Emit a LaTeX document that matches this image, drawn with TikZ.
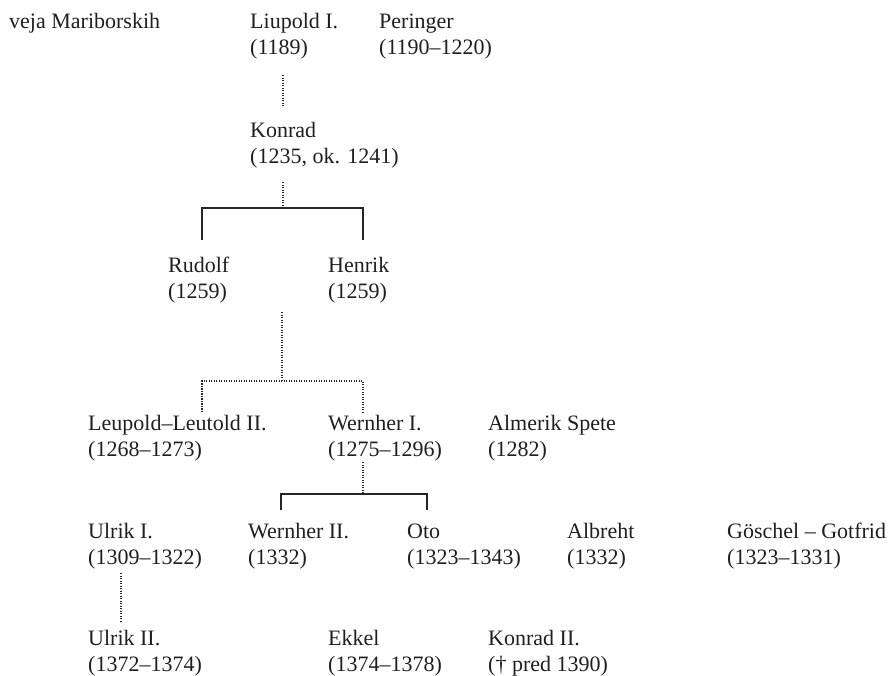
\documentclass[tikz,border=0pt]{standalone}
\usepackage{fontspec}
\setmainfont{Liberation Serif}
\newcommand\pp[2]{\vtop{\hbox{#1}\hbox{#2}}}
\begin{document}
\begin{tikzpicture}[x=1pt,y=-1pt,
  every node/.style={inner sep=0pt, anchor=base west, font=\fontsize{22}{26.8}\selectfont, text=black!88},
  solidln/.style={line width=1.6pt, draw=black!85},
  dotln/.style={line width=1.8pt, draw=black!85, dash pattern=on 1.2pt off 1.3pt}]
\useasboundingbox (0,0) rectangle (891,675);

% people
\node (veja) at (9,28) {veja Mariborskih};
\node (liu) at (250,28) {\pp{Liupold I.}{(1189)}};
\node (per) at (379,28) {\pp{Peringer}{(1190–1220)}};
\node (kon) at (250,137) {\pp{Konrad}{(1235, ok. 1241)}};
\node (rud) at (168,272) {\pp{Rudolf}{(1259)}};
\node (hen) at (328,272) {\pp{Henrik}{(1259)}};
\node (leu) at (88,430) {\pp{Leupold–Leutold II.}{(1268–1273)}};
\node (wer) at (328,430) {\pp{Wernher I.}{(1275–1296)}};
\node (alm) at (488,430) {\pp{Almerik Spete}{(1282)}};
\node (ulr) at (88,538) {\pp{Ulrik I.}{(1309–1322)}};
\node (wer2) at (248,538) {\pp{Wernher II.}{(1332)}};
\node (oto) at (407,538) {\pp{Oto}{(1323–1343)}};
\node (alb) at (567,538) {\pp{Albreht}{(1332)}};
\node (gos) at (727,538) {\pp{Göschel – Gotfrid}{(1323–1331)}};
\node (ulr2) at (88,645) {\pp{Ulrik II.}{(1372–1374)}};
\node (ekk) at (328,645) {\pp{Ekkel}{(1374–1378)}};
\node (kon2) at (488,645) {\pp{Konrad II.}{(† pred 1390)}};

% connector points
\coordinate (liuB) at (283,75);
\coordinate (konT) at (283,107);
\coordinate (konB) at (283,182);
\coordinate (br1) at (283,208);
\coordinate (br1l) at (202,208);
\coordinate (br1r) at (363,208);
\coordinate (rudT) at (202,240);
\coordinate (henT) at (363,240);
\coordinate (rhB) at (282,312);
\coordinate (br2) at (282,381);
\coordinate (br2l) at (202,381);
\coordinate (br2r) at (363,381);
\coordinate (leuT) at (202,412);
\coordinate (werT) at (363,412);
\coordinate (werB) at (363,462);
\coordinate (br3) at (363,494);
\coordinate (br3l) at (281,494);
\coordinate (br3r) at (427,494);
\coordinate (wer2T) at (281,510);
\coordinate (otoT) at (427,510);
\coordinate (ulrB) at (121,573);
\coordinate (ulr2T) at (121,622);

% connectors
\draw[dotln] (liuB) -- (konT);
\draw[dotln] (konB) -- (br1);
\draw[solidln] (rudT) -- (br1l) -- (br1r) -- (henT);
\draw[dotln] (rhB) -- (br2);
\draw[dotln] (leuT) -- (br2l) -- (br2r) -- (werT);
\draw[dotln] (werB) -- (br3);
\draw[solidln] (wer2T) -- (br3l) -- (br3r) -- (otoT);
\draw[dotln] (ulrB) -- (ulr2T);
\end{tikzpicture}
\end{document}
